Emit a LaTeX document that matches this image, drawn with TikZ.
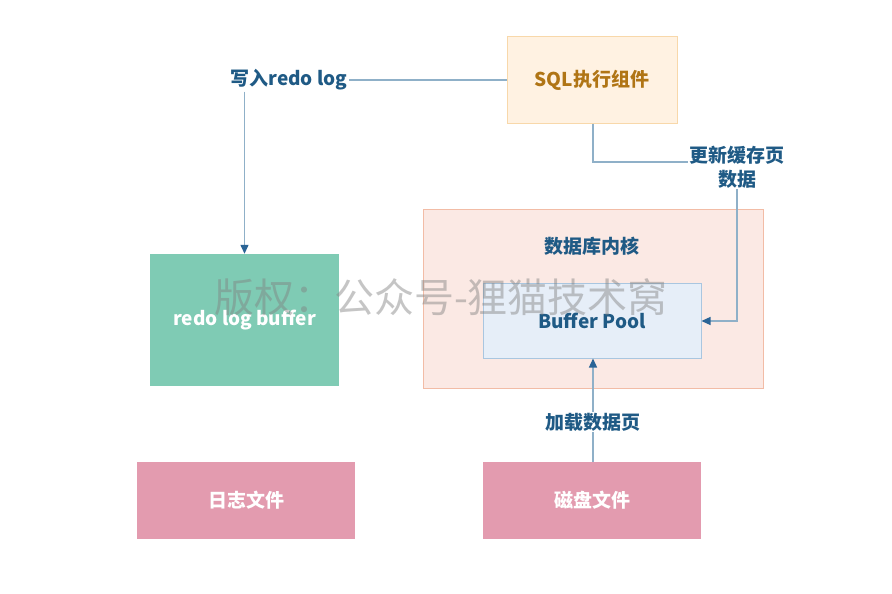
\documentclass[tikz,border=0pt]{standalone}
\usepackage{fontspec}
\setmainfont{Noto Sans CJK SC}
\usetikzlibrary{arrows.meta}
\definecolor{lineblue}{HTML}{8FB0C8}
\definecolor{tipblue}{HTML}{2A6496}
\definecolor{txtblue}{HTML}{1F5A85}
\definecolor{sqlfill}{HTML}{FFF2E2}
\definecolor{sqldraw}{HTML}{F8D8AA}
\definecolor{sqltxt}{HTML}{B07515}
\definecolor{greenfill}{HTML}{7FCBB4}
\definecolor{pinkfill}{HTML}{E39BAF}
\definecolor{corefill}{HTML}{FBE9E4}
\definecolor{coredraw}{HTML}{F2BCA6}
\definecolor{bpfill}{HTML}{E6EEF8}
\definecolor{bpdraw}{HTML}{A9C6E0}
\tikzset{
  boxbase/.style={rectangle, inner sep=0pt, font=\fontsize{19}{22}\selectfont\bfseries},
  conn/.style={draw=lineblue, line width=1.3pt},
  arr/.style={conn, -{Triangle[length=9pt,width=8pt,color=tipblue]}},
  lbl/.style={text=txtblue, font=\fontsize{19}{24}\selectfont\bfseries, align=center, inner sep=1pt},
}
\begin{document}
\begin{tikzpicture}[x=1pt,y=-1pt]
\useasboundingbox[fill=white] (0,0) rectangle (892,594);
% nodes
\node[boxbase, fill=sqlfill, draw=sqldraw, line width=1pt, text=sqltxt, minimum width=170pt, minimum height=86pt] (sql) at (592,80) {SQL执行组件};
\node[boxbase, fill=greenfill, minimum width=189pt, minimum height=132pt, text=white] (rlb) at (244.5,320) {redo log buffer};
\node[boxbase, fill=corefill, draw=coredraw, line width=1pt, minimum width=340pt, minimum height=179pt] (core) at (593,298.5) {};
\node[lbl] (corelbl) at (592,246) {数据库内核};
\node[boxbase, fill=bpfill, draw=bpdraw, line width=1pt, minimum width=218pt, minimum height=75pt, text=txtblue] (bp) at (592,320.5) {Buffer Pool};
\node[boxbase, fill=pinkfill, minimum width=218pt, minimum height=77pt, text=white] (log) at (246,500.5) {日志文件};
\node[boxbase, fill=pinkfill, minimum width=218pt, minimum height=77pt, text=white] (disk) at (592,500.5) {磁盘文件};
% labels
\node[lbl] (wl) at (289,80) {写入redo log};
\node[lbl] (upd) at (737,167) {更新缓存页\\数据};
\node[lbl, fill=white] (load) at (593,422) {加载数据页};
% connectors
\draw[conn] (sql.west) -- (wl.east);
\draw[arr] (wl.south -| rlb.north) -- (rlb.north);
\coordinate (c1) at (593,162);
\draw[conn] (sql.south -| c1) -- (c1) -- (upd.west |- c1);
\coordinate (c2) at (737,321);
\draw[arr] (upd.south) -- (c2) -- (bp.east |- c2);
\draw[conn] (disk.north -| load) -- (load.south);
\draw[arr] (load.north) -- (bp.south -| load);
% watermark
\node[text=gray, opacity=0.45, font=\fontsize{40}{42}\selectfont, inner sep=0pt] (wm) at (441,297) {版权：公众号-狸猫技术窝};
\end{tikzpicture}
\end{document}
